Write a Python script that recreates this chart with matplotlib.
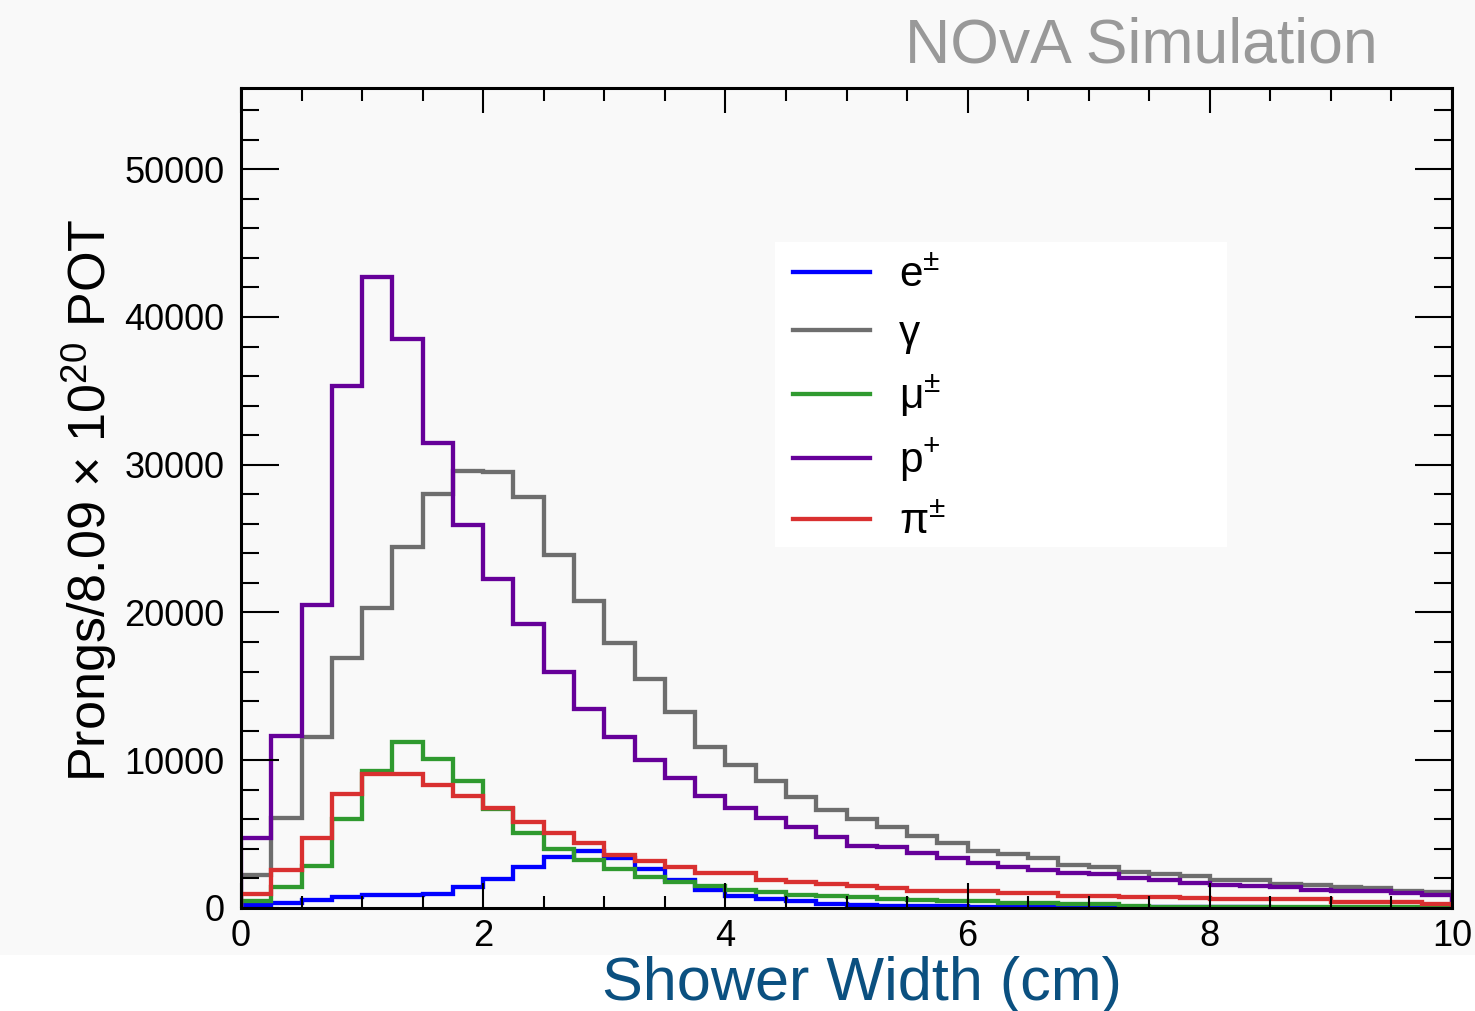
import numpy as np
import matplotlib
matplotlib.use("Agg")
import matplotlib.pyplot as plt
from matplotlib.patches import Rectangle
from matplotlib.ticker import MultipleLocator

plt.rcParams['font.family'] = ['Liberation Sans', 'DejaVu Sans']
plt.rcParams['mathtext.fontset'] = 'custom'
plt.rcParams['mathtext.rm'] = 'Liberation Sans'
plt.rcParams['mathtext.it'] = 'Liberation Sans:italic'

# shower width bins, 0.25 cm wide
bin_edges = np.arange(0, 10.001, 0.25)

# prongs per bin
electron = [230, 370, 520, 720, 850, 870, 950, 1390, 1970, 2750,
            3450, 3840, 3400, 2640, 1920, 1200, 790, 600, 450, 300,
            220, 150, 130, 120, 100, 90, 80, 70, 60, 60,
            50, 50, 40, 40, 30, 30, 30, 20, 20, 20]
photon = [2200, 6070, 11560, 16900, 20300, 24450, 28000, 29600, 29500, 27800,
          23900, 20800, 17950, 15500, 13250, 10900, 9700, 8600, 7500, 6660,
          6050, 5500, 4900, 4400, 3850, 3660, 3360, 2900, 2750, 2460,
          2300, 2170, 1900, 1880, 1600, 1580, 1450, 1330, 1170, 1100]
muon = [460, 1390, 2860, 6000, 9250, 11200, 10100, 8600, 6700, 5100,
        4000, 3230, 2640, 2080, 1760, 1470, 1200, 1060, 900, 790,
        720, 600, 560, 500, 450, 320, 320, 300, 300, 120,
        100, 100, 90, 80, 70, 60, 50, 50, 40, 30]
proton = [4750, 11650, 20500, 35350, 42700, 38500, 31500, 25900, 22250, 19200,
          16000, 13500, 11600, 10000, 8800, 7600, 6800, 6100, 5500, 4800,
          4200, 4100, 3700, 3400, 3050, 2800, 2600, 2400, 2300, 2050,
          1900, 1720, 1560, 1470, 1420, 1200, 1170, 1140, 1000, 880]
pion = [950, 2600, 4770, 7700, 9100, 9100, 8300, 7600, 6800, 5800,
        5050, 4400, 3600, 3200, 2800, 2370, 2350, 1920, 1760, 1650,
        1470, 1330, 1180, 1170, 1150, 1000, 980, 840, 830, 720,
        710, 700, 600, 600, 590, 580, 430, 430, 420, 300]

series = [
    (electron, r'e$^{\pm}$', '#0000ff'),
    (photon, 'γ', '#6e6e6e'),
    (muon, r'μ$^{\pm}$', '#2f9a2f'),
    (proton, r'p$^{+}$', '#660099'),
    (pion, r'π$^{\pm}$', '#d93030'),
]

bg = '#f9f9f9'
fig = plt.figure(figsize=(14.75, 10.11), dpi=100, facecolor='white')
# grey canvas, white strip at the bottom where the axis title sits
fig.patches.append(Rectangle((0, 0.0554), 1, 1, transform=fig.transFigure,
                             facecolor=bg, edgecolor='none', zorder=-10))

ax = fig.add_axes([0.1634, 0.1019, 0.821, 0.8111])
ax.set_facecolor(bg)

for vals, label, color in series:
    ax.stairs(vals, bin_edges, color=color, linewidth=3.1, label=label)

ax.set_xlim(0, 10)
ax.set_ylim(0, 55500)
ax.set_xticks([0, 2, 4, 6, 8, 10])
ax.xaxis.set_minor_locator(MultipleLocator(0.5))
ax.set_yticks([0, 10000, 20000, 30000, 40000, 50000])
ax.set_yticklabels(['0', '10000', '20000', '30000', '40000', '50000'])
ax.yaxis.set_minor_locator(MultipleLocator(2000))

ax.tick_params(which='both', direction='in', top=True, right=True,
               width=1.5, labelsize=26)
ax.tick_params(axis='x', which='major', length=18, pad=8)
ax.tick_params(axis='x', which='minor', length=9)
ax.tick_params(axis='y', which='major', length=27, pad=12)
ax.tick_params(axis='y', which='minor', length=13)
for sp in ax.spines.values():
    sp.set_linewidth(2.2)

ax.set_ylabel(r'Prongs/8.09 × 10$^{20}$ POT', fontsize=37.5)
ax.yaxis.set_label_coords(-0.101, 0.4976)

# legend sits on a white panel wider than its entries
ax.add_patch(Rectangle((0.441, 0.440), 0.373, 0.372, transform=ax.transAxes,
                       facecolor='white', edgecolor='none', zorder=3))
leg = ax.legend(loc='upper left', bbox_to_anchor=(0.4385, 0.821), frameon=False,
                fontsize=30.5, handlelength=1.82, handletextpad=0.68,
                labelspacing=0.43, borderpad=0.5, borderaxespad=0)
leg.set_zorder(4)

fig.text(0.5846, 0.0109, 'Shower Width (cm)', ha='center', va='baseline',
         fontsize=44, color='#0b5080')
fig.text(0.934, 0.9377, 'NOvA Simulation', ha='right', va='baseline',
         fontsize=45, color='#999999')

fig.savefig('out.png', dpi=100, facecolor=fig.get_facecolor())
